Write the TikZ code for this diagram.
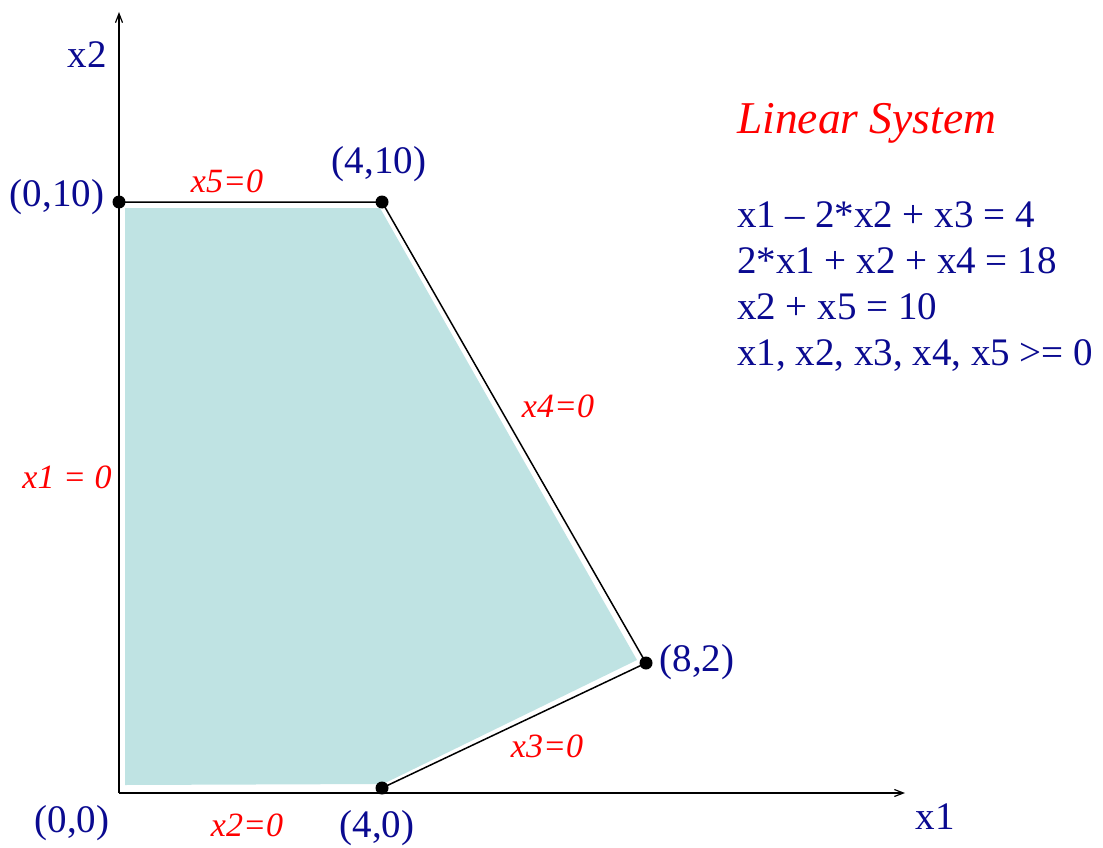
\documentclass[tikz,border=0pt]{standalone}
\usepackage{fontspec}
\setmainfont{Liberation Serif}
\usetikzlibrary{arrows.meta}
\definecolor{figblue}{RGB}{10,10,144}
\definecolor{figred}{RGB}{255,0,0}
\definecolor{figfill}{RGB}{191,227,227}
\tikzset{
  axis/.style={line width=1.2pt,-{Straight Barb[length=9pt,width=7pt]}},
  edge/.style={line width=1.5pt},
  vertex/.style={circle,fill=black,inner sep=0pt,minimum size=13pt},
  coordlbl/.style={text=figblue,font=\fontsize{39}{46}\selectfont,inner sep=0pt},
  eqlbl/.style={text=figred,font=\fontsize{34}{40}\selectfont\itshape,inner sep=0pt},
  eqline/.style={text=figblue,font=\fontsize{39}{46}\selectfont,inner sep=0pt,anchor=base west},
}
\begin{document}
\begin{tikzpicture}[x=1pt,y=-1pt]
\useasboundingbox (0,0) rectangle (1103,848);
% feasible region
\fill[figfill] (125,208) -- (380,208) -- (637,660) -- (383,784) -- (125,785) -- cycle;
% axes
\coordinate (O) at (119,793);
\coordinate (ytop) at (119,12);
\coordinate (xend) at (905,793);
\draw[axis] (O) -- (ytop);
\draw[axis] (O) -- (xend);
% vertices
\node[vertex] (v1) at (119,202) {};
\node[vertex] (v2) at (382,202) {};
\node[vertex] (v3) at (646,663) {};
\node[vertex] (v4) at (382,788) {};
\draw[edge] (v1.center) -- (v2.center) -- (v3.center) -- (v4.center);
% axis labels
\node[coordlbl] (lx2) at (87,55) {x2};
\node[coordlbl] (lx1) at (935,817) {x1};
% vertex labels
\node[coordlbl] (l00) at (72,823) {(0,0)};
\node[coordlbl] (l40) at (377,828) {(4,0)};
\node[coordlbl] (l010) at (57,197) {(0,10)};
\node[coordlbl] (l410) at (379,164) {(4,10)};
\node[coordlbl] (l82) at (697,662) {(8,2)};
% constraint labels
\node[eqlbl] (c5) at (227,181) {x5=0};
\node[eqlbl] (c4) at (558,406) {x4=0};
\node[eqlbl] (c1) at (67,477) {x1 = 0};
\node[eqlbl] (c3) at (547,746) {x3=0};
\node[eqlbl] (c2) at (247,825) {x2=0};
% linear system
\node[text=figred,font=\fontsize{45.5}{50}\selectfont\itshape,inner sep=0pt,anchor=base west] (title) at (737,134) {Linear System};
\node[eqline] (e1) at (737,227) {x1 – 2*x2 + x3 = 4};
\node[eqline] (e2) at (737,273) {2*x1 + x2 + x4 = 18};
\node[eqline] (e3) at (737,319) {x2 + x5 = 10};
\node[eqline] (e4) at (737,365) {x1, x2, x3, x4, x5 >= 0};
\end{tikzpicture}
\end{document}
